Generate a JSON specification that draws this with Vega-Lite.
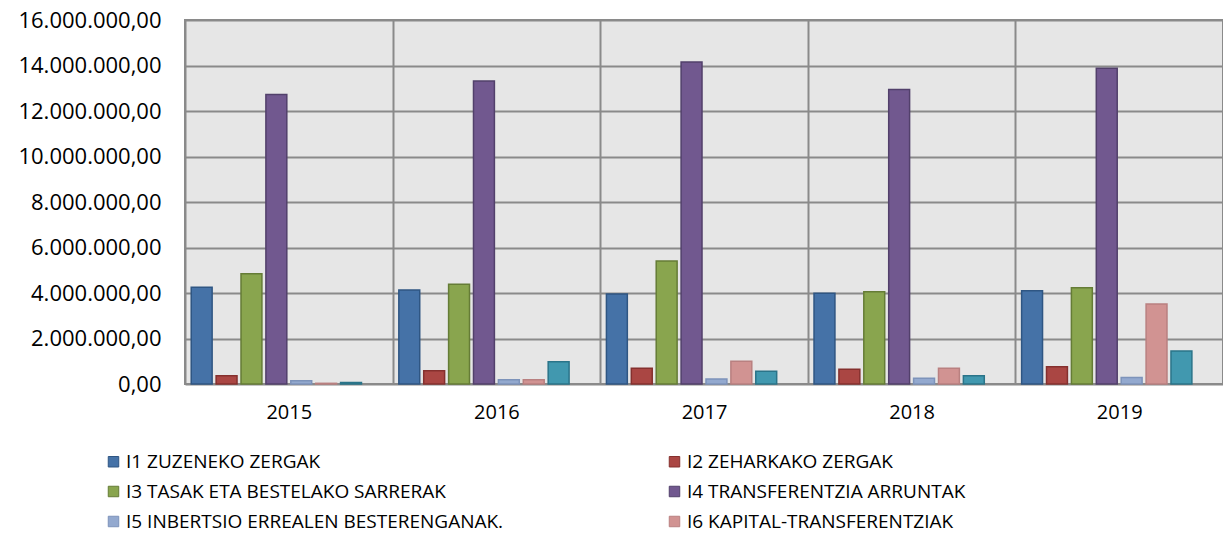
{
  "$schema": "https://vega.github.io/schema/vega-lite/v6.json",
  "autosize": {"type": "none"},
  "width": 1038,
  "height": 364,
  "padding": {"left": 185, "top": 20, "right": 0, "bottom": 160},
  "background": "white",
  "config": {
    "locale": {"number": {"decimal": ",", "thousands": ".", "grouping": [3], "currency": ["", " €"]}},
    "font": "Open Sans",
    "view": {"stroke": "#8a8a8a", "strokeWidth": 2, "fill": "#e6e6e6"}
  },
  "data": {
    "values": [
      {"year": "2015", "series": "I1 ZUZENEKO ZERGAK", "value": 4250000},
      {"year": "2015", "series": "I2 ZEHARKAKO ZERGAK", "value": 360000},
      {"year": "2015", "series": "I3 TASAK ETA BESTELAKO SARRERAK", "value": 4850000},
      {"year": "2015", "series": "I4 TRANSFERENTZIA ARRUNTAK", "value": 12730000},
      {"year": "2015", "series": "I5 INBERTSIO ERREALEN BESTERENGANAK.", "value": 145000},
      {"year": "2015", "series": "I6 KAPITAL-TRANSFERENTZIAK", "value": 30000},
      {"year": "2015", "series": "I7 FINANTZA-AKTIBOAK", "value": 70000},
      {"year": "2015", "series": "I8 FINANTZA-PASIBOAK", "value": 0},
      {"year": "2016", "series": "I1 ZUZENEKO ZERGAK", "value": 4130000},
      {"year": "2016", "series": "I2 ZEHARKAKO ZERGAK", "value": 585000},
      {"year": "2016", "series": "I3 TASAK ETA BESTELAKO SARRERAK", "value": 4380000},
      {"year": "2016", "series": "I4 TRANSFERENTZIA ARRUNTAK", "value": 13320000},
      {"year": "2016", "series": "I5 INBERTSIO ERREALEN BESTERENGANAK.", "value": 190000},
      {"year": "2016", "series": "I6 KAPITAL-TRANSFERENTZIAK", "value": 190000},
      {"year": "2016", "series": "I7 FINANTZA-AKTIBOAK", "value": 980000},
      {"year": "2016", "series": "I8 FINANTZA-PASIBOAK", "value": 0},
      {"year": "2017", "series": "I1 ZUZENEKO ZERGAK", "value": 3960000},
      {"year": "2017", "series": "I2 ZEHARKAKO ZERGAK", "value": 690000},
      {"year": "2017", "series": "I3 TASAK ETA BESTELAKO SARRERAK", "value": 5410000},
      {"year": "2017", "series": "I4 TRANSFERENTZIA ARRUNTAK", "value": 14150000},
      {"year": "2017", "series": "I5 INBERTSIO ERREALEN BESTERENGANAK.", "value": 220000},
      {"year": "2017", "series": "I6 KAPITAL-TRANSFERENTZIAK", "value": 1000000},
      {"year": "2017", "series": "I7 FINANTZA-AKTIBOAK", "value": 560000},
      {"year": "2017", "series": "I8 FINANTZA-PASIBOAK", "value": 0},
      {"year": "2018", "series": "I1 ZUZENEKO ZERGAK", "value": 3990000},
      {"year": "2018", "series": "I2 ZEHARKAKO ZERGAK", "value": 645000},
      {"year": "2018", "series": "I3 TASAK ETA BESTELAKO SARRERAK", "value": 4060000},
      {"year": "2018", "series": "I4 TRANSFERENTZIA ARRUNTAK", "value": 12940000},
      {"year": "2018", "series": "I5 INBERTSIO ERREALEN BESTERENGANAK.", "value": 250000},
      {"year": "2018", "series": "I6 KAPITAL-TRANSFERENTZIAK", "value": 690000},
      {"year": "2018", "series": "I7 FINANTZA-AKTIBOAK", "value": 365000},
      {"year": "2018", "series": "I8 FINANTZA-PASIBOAK", "value": 0},
      {"year": "2019", "series": "I1 ZUZENEKO ZERGAK", "value": 4100000},
      {"year": "2019", "series": "I2 ZEHARKAKO ZERGAK", "value": 760000},
      {"year": "2019", "series": "I3 TASAK ETA BESTELAKO SARRERAK", "value": 4230000},
      {"year": "2019", "series": "I4 TRANSFERENTZIA ARRUNTAK", "value": 13880000},
      {"year": "2019", "series": "I5 INBERTSIO ERREALEN BESTERENGANAK.", "value": 285000},
      {"year": "2019", "series": "I6 KAPITAL-TRANSFERENTZIAK", "value": 3520000},
      {"year": "2019", "series": "I7 FINANTZA-AKTIBOAK", "value": 1450000},
      {"year": "2019", "series": "I8 FINANTZA-PASIBOAK", "value": 0}
    ]
  },
  "mark": {"type": "bar"},
  "encoding": {
    "x": {
      "field": "year", "type": "nominal",
      "scale": {"paddingInner": 0, "paddingOuter": 0},
      "axis": {
        "title": null, "labelAngle": 0, "labelFontSize": 20, "labelColor": "#000",
        "labelPadding": 18, "ticks": false, "domain": false,
        "grid": true, "tickBand": "extent", "gridColor": "#8a8a8a", "gridWidth": 2
      }
    },
    "xOffset": {
      "field": "series", "type": "nominal",
      "scale": {"paddingInner": 0.16, "paddingOuter": 0.25}
    },
    "y": {
      "field": "value", "type": "quantitative",
      "scale": {"domain": [0, 16000000], "nice": false},
      "axis": {
        "title": null, "values": [0, 2000000, 4000000, 6000000, 8000000, 10000000, 12000000, 14000000, 16000000],
        "format": ",.2f", "labelFontSize": 22, "labelColor": "#000", "labelPadding": 24,
        "ticks": false, "domain": false, "gridColor": "#8a8a8a", "gridWidth": 2
      }
    },
    "strokeWidth": {"condition": {"test": "datum.value == 0", "value": 0}, "value": 1.5},
    "color": {
      "field": "series", "type": "nominal",
      "scale": {"range": ["#4572A7", "#AA4643", "#89A54E", "#71588F", "#93A9CF", "#D19392", "#4198AF", "#DB843D"]},
      "legend": {
        "title": null, "orient": "none", "legendX": -81, "legendY": 432, "direction": "horizontal",
        "values": ["I1 ZUZENEKO ZERGAK", "I2 ZEHARKAKO ZERGAK", "I3 TASAK ETA BESTELAKO SARRERAK", "I4 TRANSFERENTZIA ARRUNTAK", "I5 INBERTSIO ERREALEN BESTERENGANAK.", "I6 KAPITAL-TRANSFERENTZIAK"],
        "columns": 2, "columnPadding": 161, "rowPadding": 10,
        "symbolType": "square", "symbolSize": 110, "symbolStrokeWidth": 1,
        "labelFontSize": 19, "labelColor": "#000", "labelOffset": 3, "labelLimit": 600
      }
    },
    "stroke": {
      "field": "series", "type": "nominal",
      "scale": {"range": ["#2F5683", "#85302E", "#657C36", "#52406B", "#7D93BA", "#B98080", "#2A7489", "#B0652A"]},
      "legend": null
    }
  }
}
